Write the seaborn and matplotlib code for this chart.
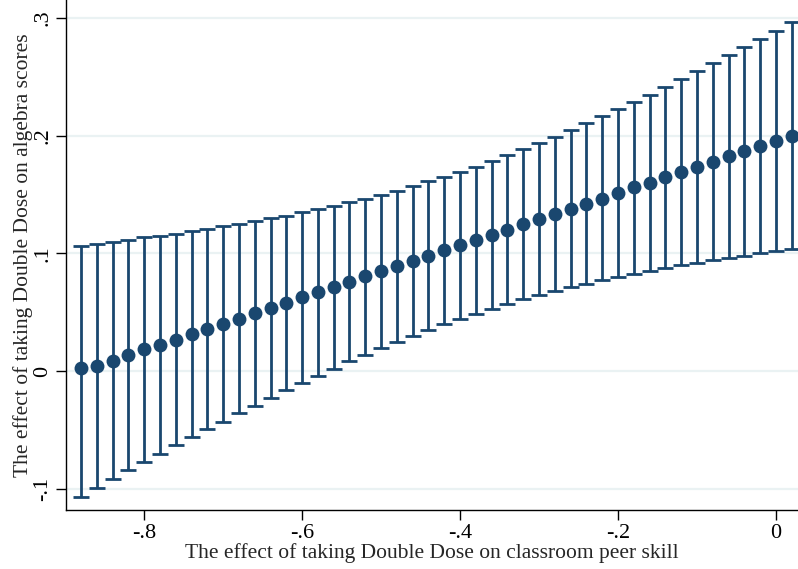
import matplotlib
matplotlib.use("Agg")
import matplotlib.pyplot as plt
import seaborn as sns
import numpy as np
import pandas as pd

# peer-skill effect (x), point estimate and 95% CI bounds
peer_effect = [
    -0.88, -0.86, -0.84, -0.82, -0.80, -0.78, -0.76, -0.74, -0.72, -0.70,
    -0.68, -0.66, -0.64, -0.62, -0.60, -0.58, -0.56, -0.54, -0.52, -0.50,
    -0.48, -0.46, -0.44, -0.42, -0.40, -0.38, -0.36, -0.34, -0.32, -0.30,
    -0.28, -0.26, -0.24, -0.22, -0.20, -0.18, -0.16, -0.14, -0.12, -0.10,
    -0.08, -0.06, -0.04, -0.02, 0.00, 0.02,
]
estimate = [
    0.0025, 0.0045, 0.0088, 0.0136, 0.0184, 0.0224, 0.0266, 0.0312, 0.0357, 0.0397,
    0.0444, 0.0493, 0.0535, 0.0580, 0.0626, 0.0668, 0.0713, 0.0759, 0.0804, 0.0847,
    0.0892, 0.0937, 0.0979, 0.1025, 0.1070, 0.1115, 0.1158, 0.1200, 0.1246, 0.1291,
    0.1333, 0.1378, 0.1424, 0.1466, 0.1514, 0.1560, 0.1600, 0.1645, 0.1690, 0.1735,
    0.1778, 0.1826, 0.1871, 0.1913, 0.1956, 0.2001,
]
ci_upper = [
    0.1064, 0.1080, 0.1100, 0.1118, 0.1138, 0.1152, 0.1169, 0.1189, 0.1208, 0.1230,
    0.1252, 0.1274, 0.1300, 0.1319, 0.1348, 0.1376, 0.1401, 0.1433, 0.1464, 0.1495,
    0.1531, 0.1571, 0.1611, 0.1648, 0.1693, 0.1738, 0.1786, 0.1837, 0.1885, 0.1939,
    0.1990, 0.2047, 0.2106, 0.2166, 0.2225, 0.2288, 0.2350, 0.2412, 0.2480, 0.2548,
    0.2618, 0.2684, 0.2752, 0.2820, 0.2890, 0.2964,
]
ci_lower = [
    -0.1067, -0.0990, -0.0915, -0.0844, -0.0773, -0.0702, -0.0631, -0.0563, -0.0495, -0.0430,
    -0.0359, -0.0295, -0.0229, -0.0164, -0.0099, -0.0040, 0.0020, 0.0082, 0.0139, 0.0193,
    0.0244, 0.0297, 0.0348, 0.0396, 0.0442, 0.0487, 0.0529, 0.0569, 0.0609, 0.0643,
    0.0677, 0.0711, 0.0742, 0.0770, 0.0798, 0.0826, 0.0852, 0.0877, 0.0898, 0.0920,
    0.0945, 0.0965, 0.0982, 0.1002, 0.1022, 0.1039,
]

x_ticks = [-0.8, -0.6, -0.4, -0.2, 0.0]
x_ticklabels = ["-.8", "-.6", "-.4", "-.2", "0"]
y_ticks = [-0.1, 0.0, 0.1, 0.2, 0.3]
y_ticklabels = ["-.1", "0", ".1", ".2", ".3"]

df = pd.DataFrame(
    {"x": peer_effect, "est": estimate, "lo": ci_lower, "hi": ci_upper}
)

sns.set_style("white")
plt.rcParams["font.family"] = ["Liberation Serif", "DejaVu Serif"]

navy = "#1a476f"
grid_color = "#eaf2f3"

fig = plt.figure(figsize=(7.98, 5.69), dpi=100)
ax = fig.add_axes([0.0827, 0.1037, 0.9173, 0.8963])

for yv in y_ticks:
    ax.axhline(yv, color=grid_color, linewidth=1.6, zorder=0)

ax.errorbar(
    df["x"],
    df["est"],
    yerr=[df["est"] - df["lo"], df["hi"] - df["est"]],
    fmt="none",
    ecolor=navy,
    elinewidth=2.0,
    capsize=6,
    capthick=2.0,
    zorder=2,
)
sns.scatterplot(
    data=df, x="x", y="est", ax=ax, color=navy, s=100, edgecolor=navy,
    linewidth=0, zorder=3, legend=False,
)

ax.set_xlim(-0.899, 0.028)
ax.set_ylim(-0.118, 0.3153)
ax.set_xticks(x_ticks)
ax.set_xticklabels(x_ticklabels, fontsize=16)
ax.set_yticks(y_ticks)
ax.set_yticklabels(y_ticklabels, fontsize=16, rotation=90, va="center")

ax.set_xlabel("The effect of taking Double Dose on classroom peer skill",
              fontsize=15.5, labelpad=0)
ax.set_ylabel("The effect of taking Double Dose on algebra scores",
              fontsize=15.5, labelpad=0)

for side in ["top", "right"]:
    ax.spines[side].set_visible(False)
for side in ["left", "bottom"]:
    ax.spines[side].set_color("black")
    ax.spines[side].set_linewidth(1.0)
ax.tick_params(axis="both", direction="out", length=7, width=1.0,
               colors="black", bottom=True, left=True, pad=3)

fig.savefig("out.png", dpi=100)
